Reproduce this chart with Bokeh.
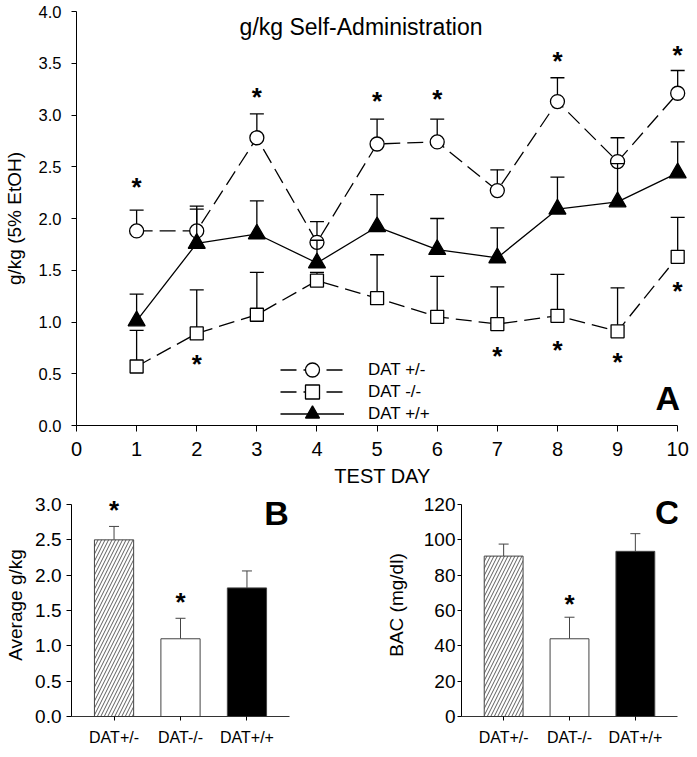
from bokeh.plotting import figure
from bokeh.models import (ColumnDataSource, Legend, LegendItem, Label, FixedTicker,
                          NumeralTickFormatter, Range1d, FactorRange)
from bokeh.layouts import column, row
from bokeh.embed import file_html
from bokeh.resources import INLINE
from bokeh.core.properties import value

FONT = "Liberation Sans"

# ---------------- Panel A data ----------------
days = [1, 2, 3, 4, 5, 6, 7, 8, 9, 10]
het_mean = [1.88, 1.88, 2.78, 1.77, 2.72, 2.74, 2.27, 3.13, 2.55, 3.21]
het_sem = [0.20, 0.24, 0.23, 0.20, 0.24, 0.22, 0.20, 0.23, 0.23, 0.22]
ko_mean = [0.57, 0.89, 1.07, 1.40, 1.23, 1.05, 0.98, 1.06, 0.91, 1.63]
ko_sem = [0.35, 0.42, 0.41, 0.08, 0.42, 0.39, 0.36, 0.40, 0.42, 0.38]
wt_mean = [1.01, 1.76, 1.85, 1.57, 1.92, 1.70, 1.62, 2.09, 2.16, 2.44]
wt_sem = [0.26, 0.33, 0.32, 0.22, 0.31, 0.30, 0.29, 0.31, 0.37, 0.30]
het_star_days = [1, 3, 5, 6, 8, 10]
het_star_y = [2.37, 3.24, 3.20, 3.22, 3.59, 3.65]
ko_star_days = [2, 7, 8, 9, 10]
ko_star_y = [0.66, 0.74, 0.80, 0.68, 1.37]
x_ticks_a = [0, 1, 2, 3, 4, 5, 6, 7, 8, 9, 10]
y_ticks_a = [0.0, 0.5, 1.0, 1.5, 2.0, 2.5, 3.0, 3.5, 4.0]
legend_labels = ["DAT +/-", "DAT -/-", "DAT +/+"]

# ---------------- Panels B / C data ----------------
groups = ["DAT+/-", "DAT-/-", "DAT+/+"]
avg_gkg = [2.50, 1.10, 1.82]
avg_gkg_sem = [0.19, 0.29, 0.24]
avg_star_groups = ["DAT+/-", "DAT-/-"]
avg_star_y = [3.02, 1.72]
bac = [90.8, 44.0, 93.5]
bac_sem = [6.8, 12.2, 10.0]
bac_star_groups = ["DAT-/-"]
bac_star_y = [67.6]
y_ticks_b = [0.0, 0.5, 1.0, 1.5, 2.0, 2.5, 3.0]
y_ticks_c = [0, 20, 40, 60, 80, 100, 120]

bar_fill = ["white", "white", "black"]
bar_hatch = ["/", " ", " "]


def base_style(p):
    p.outline_line_color = None
    p.grid.visible = False
    p.background_fill_color = "white"
    p.border_fill_color = "white"
    for ax in p.axis:
        ax.axis_line_color = "black"
        ax.axis_line_width = 1
        ax.major_tick_line_color = "black"
        ax.minor_tick_line_color = None
        ax.major_tick_in = 0
        ax.major_label_text_font = FONT
        ax.axis_label_text_font = FONT
        ax.axis_label_text_font_style = "normal"
        ax.major_label_text_color = "black"
        ax.axis_label_text_color = "black"


# ================= Panel A =================
pA = figure(width=689, height=492, x_range=Range1d(0, 10.18), y_range=Range1d(0, 4),
            output_backend="svg", toolbar_location=None,
            min_border_left=71, min_border_right=1, min_border_top=11, min_border_bottom=67)
base_style(pA)
pA.xaxis.bounds = (0, 10)
pA.xaxis.ticker = FixedTicker(ticks=x_ticks_a)
pA.xaxis.major_tick_out = 6
pA.xaxis.major_label_standoff = 10
pA.xaxis.major_label_text_font_size = "20px"
pA.xaxis.axis_label = "TEST DAY"
pA.xaxis.axis_label_text_font_size = "20px"
pA.xaxis.axis_label_standoff = 6
pA.yaxis.ticker = FixedTicker(ticks=y_ticks_a)
pA.yaxis.formatter = NumeralTickFormatter(format="0.0")
pA.yaxis.major_tick_out = 5
pA.yaxis.major_label_standoff = 10
pA.yaxis.major_label_text_font_size = "16.5px"
pA.yaxis.axis_label = "g/kg (5% EtOH)"
pA.yaxis.axis_label_text_font_size = "19px"
pA.yaxis.axis_label_standoff = 11


def series(p, x, mean, sem, marker, size, fill, dash):
    top = [m + s for m, s in zip(mean, sem)]
    src = ColumnDataSource(dict(x=x, y=mean, top=top))
    p.segment(x0="x", y0="y", x1="x", y1="top", source=src, line_color="black", line_width=1.3)
    p.scatter(x="x", y="top", source=src, marker="dash", size=14, line_color="black", line_width=1.3)
    ln = p.line(x="x", y="y", source=src, line_color="black", line_width=1.3, line_dash=dash)
    mk = p.scatter(x="x", y="y", source=src, marker=marker, size=size, fill_color=fill,
                   line_color="black", line_width=1.3)
    return ln, mk


ko_ln, ko_mk = series(pA, days, ko_mean, ko_sem, "square", 13, "white", "16 7")
het_ln, het_mk = series(pA, days, het_mean, het_sem, "circle", 14, "white", "16 7")
wt_ln, wt_mk = series(pA, days, wt_mean, wt_sem, "triangle", 17, "black", "solid")

star_kw = dict(text_font=value(FONT), text_font_style="bold", text_font_size="26px",
               text_align="center", text_baseline="middle", y_offset=7, text_color="black")
pA.text(x=het_star_days, y=het_star_y, text=["*"] * len(het_star_days), **star_kw)
pA.text(x=ko_star_days, y=ko_star_y, text=["*"] * len(ko_star_days), **star_kw)

pA.add_layout(Label(x=4.733, y=3.848, text="g/kg Self-Administration", text_font=FONT,
                    text_font_size="23px", text_align="center", text_baseline="middle",
                    text_color="black"))
pA.add_layout(Label(x=9.835, y=0.27, text="A", text_font=FONT, text_font_style="bold",
                    text_font_size="34px", text_align="center", text_baseline="middle",
                    text_color="black"))

# one legend box per row so the rows can sit closer than the glyph height
legend_rows = [(legend_labels[0], [het_ln, het_mk], 38),
               (legend_labels[1], [ko_ln, ko_mk], 16),
               (legend_labels[2], [wt_ln, wt_mk], -6)]
for lab, rends, ybot in legend_rows:
    lg = Legend(items=[LegendItem(label=lab, renderers=rends)],
                location=(204, ybot), orientation="vertical", glyph_width=64, glyph_height=35,
                label_height=20, spacing=0, label_standoff=24, padding=0, margin=0,
                border_line_color=None, background_fill_alpha=0,
                label_text_font=FONT, label_text_font_size="17px", label_text_color="black")
    pA.add_layout(lg)


# ================= Panels B and C =================
def bar_panel(width, mbl, mbr, y_end, y_bounds, yticks, fmt, vals, sems, ylabel,
              star_groups, star_y, letter_x, letter_y, letter, label_standoff, tick_standoff, tick_out):
    p = figure(width=width, height=257,
               x_range=FactorRange(factors=groups, range_padding=0.14, range_padding_units="absolute"),
               y_range=Range1d(0, y_end), output_backend="svg", toolbar_location=None,
               min_border_left=mbl, min_border_right=mbr, min_border_top=1, min_border_bottom=33)
    base_style(p)
    p.yaxis.bounds = y_bounds
    p.yaxis.ticker = FixedTicker(ticks=yticks)
    if fmt:
        p.yaxis.formatter = NumeralTickFormatter(format=fmt)
    p.yaxis.major_tick_out = tick_out
    p.yaxis.major_label_standoff = tick_standoff
    p.yaxis.major_label_text_font_size = "19px"
    p.yaxis.axis_label = ylabel
    p.yaxis.axis_label_text_font_size = "19px"
    p.yaxis.axis_label_standoff = label_standoff
    p.xaxis.major_tick_out = 4
    p.xaxis.major_label_standoff = 8
    p.xaxis.major_label_text_font_size = "16px"
    p.xaxis.axis_line_color = "#333333"

    top = [v + s for v, s in zip(vals, sems)]
    src = ColumnDataSource(dict(g=groups, v=vals, top=top, fill=bar_fill, hatch=bar_hatch))
    p.segment(x0="g", y0="v", x1="g", y1="top", source=src, line_color="#444444", line_width=1)
    p.scatter(x="g", y="top", source=src, marker="dash", size=10, line_color="#444444", line_width=1)
    p.vbar(x="g", top="v", width=0.59, source=src, fill_color="fill", hatch_pattern="hatch",
           hatch_color="#333333", hatch_scale=7, hatch_weight=0.8, line_color="#444444", line_width=1)
    p.text(x=star_groups, y=star_y, text=["*"] * len(star_groups), **star_kw)
    p.add_layout(Label(x=letter_x, y=letter_y, text=letter, text_font=FONT, text_font_style="bold",
                       text_font_size="34px", text_align="center", text_baseline="middle",
                       text_color="black"))
    return p


pB = bar_panel(355, 71, 66, 3.156, (0, 3.0), y_ticks_b, "0.0", avg_gkg, avg_gkg_sem, "Average g/kg",
               avg_star_groups, avg_star_y, 2.943, 2.887, "B", 6, 5, 5)
pC = bar_panel(334, 106, 12, 126.24, (0, 120), y_ticks_c, None, bac, bac_sem, "BAC (mg/dl)",
               bac_star_groups, bac_star_y, 2.985, 115.5, "C", 14, 2, 4)

layout = column(pA, row(pB, pC))
open("out.html", "w").write(file_html(layout, INLINE))
